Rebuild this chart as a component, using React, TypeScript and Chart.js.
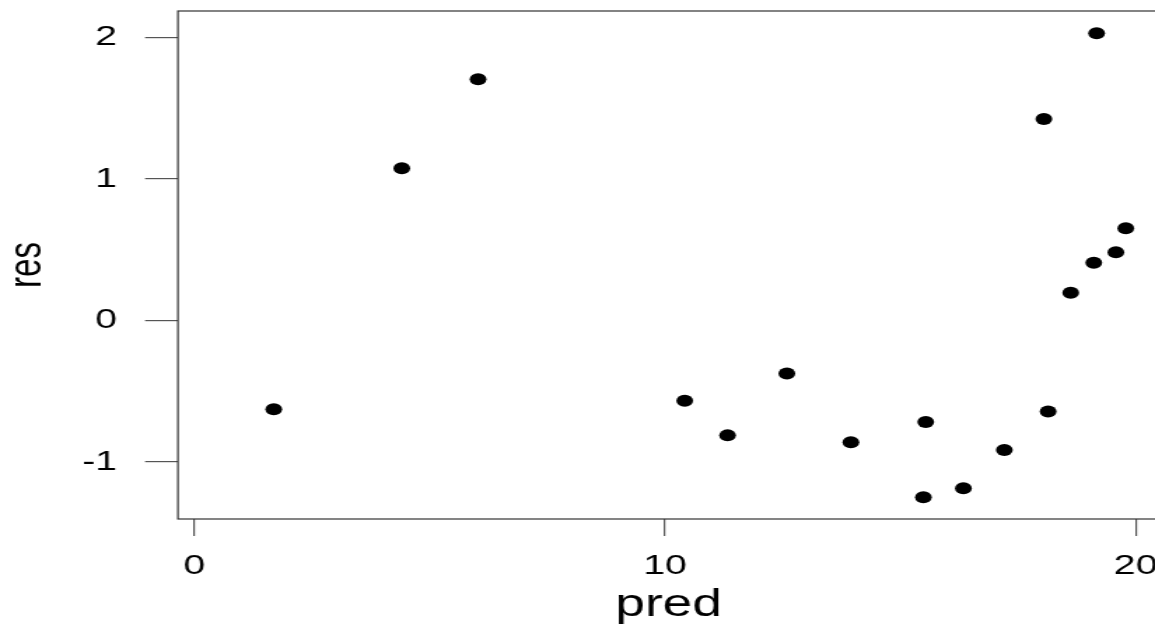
import React, { useEffect, useRef } from "react";
import { Chart, registerables } from "chart.js";

Chart.register(...registerables);

// Data (pred vs res)
const predValues = [1.69, 4.41, 6.03, 10.42, 11.33, 12.59, 13.95, 15.54, 15.49, 16.34, 17.21, 18.05, 18.14, 18.62, 19.11, 19.17, 19.58, 19.79];
const resValues = [-0.629, 1.074, 1.703, -0.568, -0.813, -0.375, -0.862, -0.719, -1.251, -1.187, -0.917, 1.423, -0.645, 0.195, 0.407, 2.028, 0.481, 0.65];
const xTicks = [0, 10, 20];
const yTicks = [-1, 0, 1, 2];
const xTitle = "pred";
const yTitle = "res";

const STRETCH = 1.4;
const CW = 840;
const CH = 624;
const FONT = "'Liberation Sans', Arial, sans-serif";

const boxPlugin = {
  id: "rbox",
  afterDraw(chart: any) {
    const { ctx, chartArea } = chart;
    ctx.save();
    ctx.strokeStyle = "#333";
    ctx.lineWidth = 1.2;
    ctx.strokeRect(chartArea.left, chartArea.top, chartArea.right - chartArea.left, chartArea.bottom - chartArea.top);
    ctx.restore();
  },
};

export default function App() {
  const ref = useRef<HTMLCanvasElement | null>(null);
  useEffect(() => {
    if (!ref.current) return;
    const data = predValues.map((x, i) => ({ x, y: resValues[i] }));
    const chart = new Chart(ref.current, {
      type: "scatter",
      data: {
        datasets: [
          {
            data,
            pointRadius: 6,
            pointHoverRadius: 6,
            backgroundColor: "#000",
            borderWidth: 0,
          },
        ],
      },
      options: {
        animation: false,
        responsive: false,
        devicePixelRatio: 1,
        events: [],
        layout: { padding: { top: 11, right: 12, bottom: 0, left: 0 } },
        plugins: { legend: { display: false }, tooltip: { enabled: false } },
        scales: {
          x: {
            type: "linear",
            min: -0.346,
            max: 20.5,
            afterBuildTicks: (s: any) => {
              s.ticks = xTicks.map((v) => ({ value: v }));
            },
            afterFit: (s: any) => {
              s.height = 105;
              s.paddingLeft = 0;
              s.paddingRight = 0;
            },
            grid: { drawOnChartArea: false, drawTicks: true, tickLength: 17, color: "#555", lineWidth: 1.2 },
            border: { display: false },
            ticks: {
              padding: 13,
              color: "#000",
              font: { family: FONT, size: 28 },
              maxRotation: 0,
              callback: (v: any) => String(v),
            },
            title: {
              display: true,
              text: xTitle,
              color: "#000",
              font: { family: FONT, size: 38, lineHeight: 1.0 },
              padding: { top: 0, bottom: -1 },
            },
          },
          y: {
            type: "linear",
            min: -1.404,
            max: 2.186,
            afterBuildTicks: (s: any) => {
              s.ticks = yTicks.map((v) => ({ value: v }));
            },
            afterFit: (s: any) => {
              s.width = 127.1;
              s.paddingTop = 0;
              s.paddingBottom = 0;
            },
            grid: { drawOnChartArea: false, drawTicks: true, tickLength: 23.5, color: "#555", lineWidth: 1.2 },
            border: { display: false },
            ticks: {
              padding: 20,
              color: "#000",
              font: { family: FONT, size: 28 },
              callback: (v: any) => String(v),
            },
            title: {
              display: true,
              text: yTitle,
              color: "#000",
              font: { family: FONT, size: 33 },
              padding: { top: 0, bottom: 0 },
            },
          },
        },
      },
      plugins: [boxPlugin],
    });
    return () => chart.destroy();
  }, []);

  return (
    <div
      style={{
        position: "fixed",
        left: 0,
        top: 0,
        width: 1155,
        height: 624,
        overflow: "hidden",
        background: "#fff",
      }}
    >
      <div style={{ width: CW, height: CH, transform: `scaleX(${STRETCH})`, transformOrigin: "0 0" }}>
        <canvas ref={ref} width={CW} height={CH} style={{ display: "block" }} />
      </div>
    </div>
  );
}
